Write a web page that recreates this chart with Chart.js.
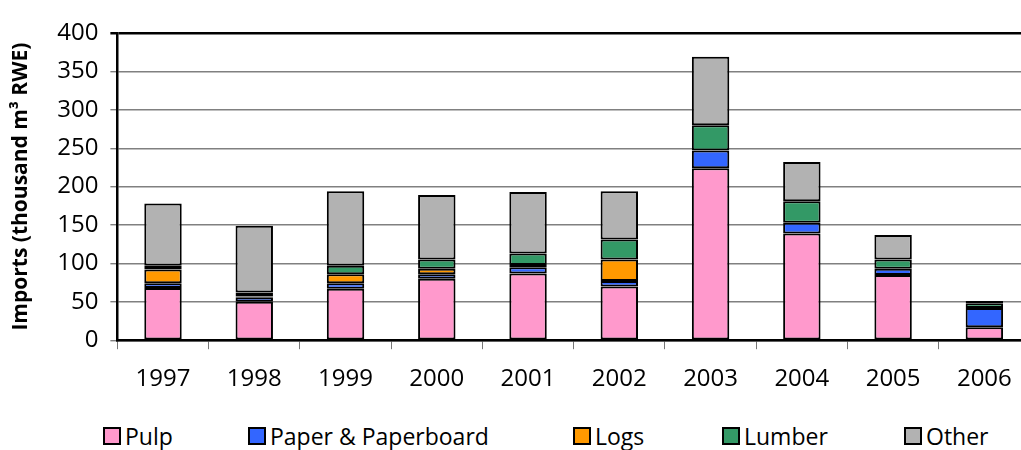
<!DOCTYPE html>
<html>
<head>
<meta charset="utf-8">
<script src="https://cdn.jsdelivr.net/npm/chart.js@4/dist/chart.umd.min.js"></script>
<style>
  html, body { margin: 0; padding: 0; background: #fff; overflow: hidden; }
  #wrap { position: relative; width: 1021px; height: 450px; overflow: hidden; }
  #box { position: absolute; left: 0; top: 0; width: 1040px; height: 414px; }
  #legend { position: absolute; left: 0; top: 420px; width: 1021px; height: 30px;
            font-family: "Open Sans", sans-serif; font-size: 23px; color: #000; }
  #legend span.item { position: absolute; top: 0; display: flex; align-items: center; white-space: nowrap; line-height: 32px; }
  #legend span.sw { display: inline-block; width: 14px; height: 14px; border: 2px solid #000; margin-right: 4px; }
</style>
</head>
<body>
<div id="wrap">
  <div id="box"><canvas id="myChart"></canvas></div>
  <div id="legend"></div>
</div>
<script>
// values, thousand m3 RWE
let years = ['1997', '1998', '1999', '2000', '2001', '2002', '2003', '2004', '2005', '2006'];
let pulp = [68, 50, 67, 80, 87, 70, 224, 139, 85, 17];
let paper = [6, 6, 7, 6, 8, 7, 23, 14, 8, 25];
let logs = [18, 1, 12, 7, 3, 28, 0, 0, 0, 0];
let lumber = [5, 5, 11, 12, 15, 26, 33, 28, 12, 6];
let other = [81, 87, 97, 84, 80, 63, 89, 51, 32, 3];
let yTicks = [0, 50, 100, 150, 200, 250, 300, 350, 400];

// legend item left edges (layout only)
let legendLeft = [103, 248, 573, 722, 904];

let fontFamily = '"Open Sans", sans-serif';

function series(label, data, color) {
    return {
        label: label,
        data: data,
        backgroundColor: color,
        borderColor: '#000',
        borderWidth: 2,
        borderSkipped: false,
        categoryPercentage: 1.0,
        barPercentage: 0.41
    };
}

let datasets = [
    series('Pulp', pulp, '#FF99CC'),
    series('Paper & Paperboard', paper, '#3366FF'),
    series('Logs', logs, '#FF9900'),
    series('Lumber', lumber, '#339966'),
    series('Other', other, '#B2B2B2')
];

let ctx = document.getElementById('myChart').getContext('2d');

let myChart = new Chart(ctx, {
    type: 'bar',
    data: { labels: years, datasets: datasets },
    options: {
        responsive: true,
        maintainAspectRatio: false,
        animation: false,
        layout: { padding: { top: 33, right: 10, left: 8, bottom: 4 } },
        plugins: {
            legend: { display: false },
            tooltip: { enabled: false }
        },
        scales: {
            x: {
                stacked: true,
                grid: { drawOnChartArea: false, drawTicks: true, tickLength: 9, color: '#777', offset: true },
                border: { color: '#000', width: 2.5 },
                ticks: { color: '#000', font: { family: fontFamily, size: 24 }, padding: 16 }
            },
            y: {
                stacked: true,
                min: 0,
                max: 400,
                afterBuildTicks: (axis) => { axis.ticks = yTicks.map(v => ({ value: v })); },
                grid: {
                    color: (c) => c.tick && c.tick.value === 400 ? '#000' : '#808080',
                    lineWidth: (c) => c.tick && c.tick.value === 400 ? 2.5 : 1.4,
                    tickLength: 7
                },
                border: { color: '#000', width: 2.5 },
                ticks: { color: '#000', font: { family: fontFamily, size: 24 }, padding: 12 },
                title: {
                    display: true,
                    text: 'Imports (thousand m\u00B3 RWE)',
                    color: '#000',
                    font: { family: fontFamily, size: 21, weight: 'bold' },
                    padding: { top: 0, bottom: 12 }
                }
            }
        }
    }
});

// legend built from the chart datasets
let legend = document.getElementById('legend');
myChart.data.datasets.forEach((ds, i) => {
    let item = document.createElement('span');
    item.className = 'item';
    item.style.left = legendLeft[i] + 'px';
    let sw = document.createElement('span');
    sw.className = 'sw';
    sw.style.background = ds.backgroundColor;
    item.appendChild(sw);
    item.appendChild(document.createTextNode(ds.label));
    legend.appendChild(item);
});
</script>
</body>
</html>
